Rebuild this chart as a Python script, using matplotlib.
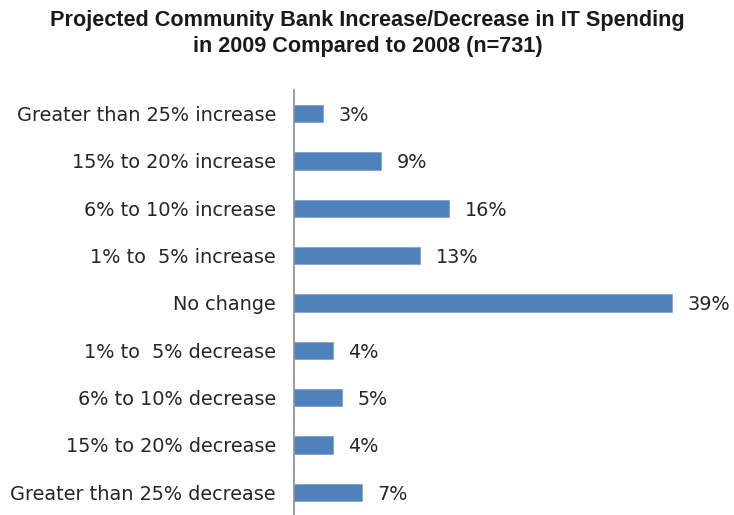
import matplotlib
matplotlib.use("Agg")
import matplotlib.pyplot as plt

# survey categories, top to bottom
categories = [
    "Greater than 25% increase",
    "15% to 20% increase",
    "6% to 10% increase",
    "1% to  5% increase",
    "No change",
    "1% to  5% decrease",
    "6% to 10% decrease",
    "15% to 20% decrease",
    "Greater than 25% decrease",
]
# percent of respondents
values = [3, 9, 16, 13, 39, 4, 5, 4, 7]

bar_color = "#4F81BD"
text_color = "#262626"

fig = plt.figure(figsize=(7.34, 5.15), dpi=100)
ax = fig.add_axes([294 / 734, -1 / 515, 436 / 734, 426 / 515])

ypos = list(range(len(categories)))
ax.barh(ypos, values, height=0.37, color=bar_color, edgecolor="#7FA3D0", linewidth=0.6)

for y, v in zip(ypos, values):
    ax.text(v + 1.6, y + 0.04, f"{v}%", va="center", ha="left",
            fontsize=13.8, color=text_color, family="DejaVu Sans")

ax.set_yticks(ypos)
ax.set_yticklabels(categories, fontsize=13.9, color=text_color, family="DejaVu Sans")
ax.tick_params(axis="y", length=0, pad=13)
ax.set_ylim(len(categories) - 0.5, -0.5)
ax.set_xlim(0, 45)
ax.set_xticks([])

for side in ["top", "right", "bottom"]:
    ax.spines[side].set_visible(False)
ax.spines["left"].set_color("#8C8C8C")
ax.spines["left"].set_linewidth(1.2)

fig.text(0.501, 0.981, "Projected Community Bank Increase/Decrease in IT Spending\nin 2009 Compared to 2008 (n=731)",
         ha="center", va="top", fontsize=15.6, fontweight="bold",
         family="Liberation Sans", color="#1a1a1a", linespacing=1.32)

fig.savefig("out.png", dpi=100)
